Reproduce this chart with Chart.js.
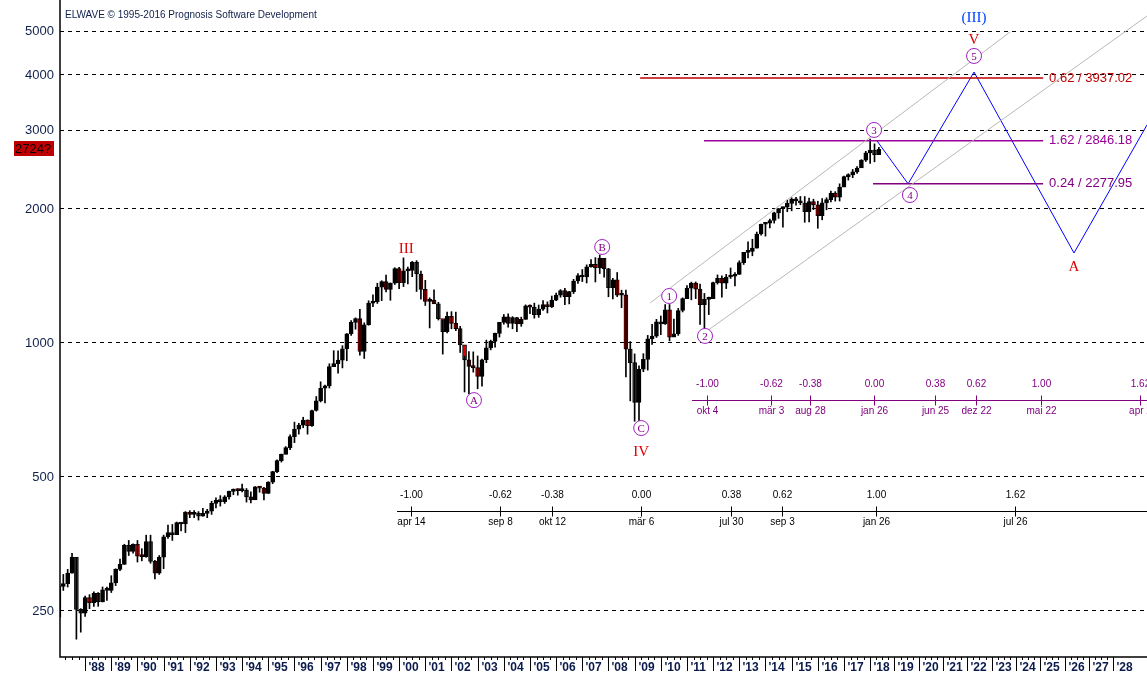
<!DOCTYPE html>
<html>
<head>
<meta charset="utf-8">
<script src="https://cdn.jsdelivr.net/npm/chart.js@4"></script>
<style>
  html, body { margin: 0; padding: 0; background: #fff; }
  #wrap { width: 1147px; height: 677px; position: relative; }
</style>
</head>
<body>
<div id="wrap"><canvas id="grafico"></canvas></div>
<script>
// bimonthly candles, first one is jan-feb 1987
const anioInicio = 1987;
const abre0 = 242;
const cierres = [
  284,288,304,330,252,247, 268,261,274,262,279,278, 289,310,318,351,340,353,
  332,331,358,323,304,330, 367,375,371,395,392,417, 412,415,408,414,419,436,
  443,440,451,464,468,466, 467,451,444,475,472,459, 487,514,544,562,582,616,
  640,654,671,652,705,741, 791,801,885,899,915,970, 1049,1112,1134,957,1099,1229,
  1238,1335,1373,1320,1362,1469, 1366,1452,1455,1517,1429,1320, 1240,1249,1224,1134,1060,1148,
  1107,1077,990,916,886,880, 841,917,975,1008,1051,1112, 1145,1107,1141,1104,1130,1212,
  1204,1157,1191,1220,1207,1248, 1281,1311,1270,1304,1378,1418, 1407,1482,1503,1474,1549,1468,
  1331,1386,1280,1283,969,903, 735,873,919,1021,1036,1115, 1104,1187,1031,1049,1183,1258,
  1327,1364,1321,1219,1253,1258, 1366,1398,1362,1407,1412,1426, 1515,1598,1606,1633,1757,1848,
  1859,1884,1960,2003,2018,2059, 2105,2086,2063,1972,2079,2044, 1932,2065,2099,2171,2126,2239,
  2364,2384,2423,2472,2575,2674, 2714,2648,2724
];
const maximos = [
  285,302,310,337,328,253, 270,272,276,275,283,283, 300,311,327,353,360,354,
  360,345,370,370,325,333, 370,390,391,396,395,418, 420,420,418,425,423,441,
  449,454,454,465,470,470, 482,471,463,476,476,474, 488,515,546,563,585,622,
  664,660,681,672,707,758, 818,804,898,961,960,986, 1050,1123,1139,1190,1110,1244,
  1282,1362,1380,1421,1365,1476, 1478,1553,1480,1525,1531,1450, 1383,1263,1316,1234,1124,1173,
  1176,1173,1090,934,956,955, 935,920,1015,1015,1053,1112, 1159,1163,1146,1142,1143,1218,
  1218,1229,1217,1246,1237,1275, 1295,1318,1326,1306,1390,1431, 1462,1498,1540,1555,1576,1545,
  1471,1397,1440,1314,1314,1007, 945,888,946,1040,1101,1130, 1150,1220,1220,1131,1196,1263,
  1345,1370,1371,1356,1292,1268, 1371,1422,1416,1426,1474,1439, 1530,1598,1687,1710,1775,1849,
  1867,1897,1968,2005,2019,2093, 2119,2125,2134,2133,2116,2104, 2082,2111,2120,2193,2188,2278,
  2371,2400,2454,2491,2582,2695, 2873,2801,2750
];
const minimos = [
  242,278,283,304,216,224, 243,253,256,256,262,264, 275,285,308,318,333,337,
  322,324,330,320,295,302, 311,364,360,373,378,375, 405,405,400,408,405,412,
  426,430,436,446,456,455, 463,439,437,445,462,444, 459,483,511,540,563,576,
  597,624,645,624,649,703, 737,733,792,891,855,879, 912,1040,1074,939,923,1096,
  1206,1227,1245,1302,1247,1353, 1325,1339,1357,1409,1305,1254, 1214,1081,1225,1126,944,1054,
  1076,1066,952,776,768,860, 789,800,903,965,978,1031, 1102,1085,1076,1060,1090,1130,
  1163,1137,1142,1183,1168,1201, 1245,1267,1219,1224,1291,1360, 1374,1364,1480,1371,1432,1406,
  1270,1256,1271,1200,839,741, 667,666,862,869,992,1029, 1044,1101,1011,1040,1040,1174,
  1262,1250,1258,1101,1075,1158, 1259,1356,1267,1325,1396,1343, 1426,1501,1553,1570,1633,1746,
  1738,1814,1859,1905,1821,1972, 1981,2039,2044,1867,1871,1993, 1810,1891,1992,2074,2083,2084,
  2245,2322,2352,2405,2488,2557, 2533,2553,2680
];

const ticksPrecio = [250, 500, 1000, 2000, 3000, 4000, 5000];
const aniosEje = [];
for (let a = 1988; a <= 2028; a++) aniosEje.push(a);

// projected wave path and channel
const ondaX = [2018.26, 2019.45, 2021.97, 2025.79, 2028.58];
const ondaY = [2846, 2278, 4062, 1593, 3090];
const canalSupX = [2009.59, 2023.35], canalSupY = [1230, 4997];
const canalInfX = [2011.39, 2028.58], canalInfY = [1026, 5428];

// fibonacci price levels
const fibs = [
  { desde: 2009.21, hasta: 2024.61, valor: 3937.02, texto: "0.62 / 3937.02", color: "#c00000" },
  { desde: 2011.65, hasta: 2024.61, valor: 2846.18, texto: "1.62 / 2846.18", color: "#990099" },
  { desde: 2018.11, hasta: 2024.61, valor: 2277.95, texto: "0.24 / 2277.95", color: "#800080" },
];

// time ratio rulers
const reglas = [
  { valor: 419, desde: 1999.92, color: "#000",
    anios: [2000.46, 2003.86, 2005.85, 2009.25, 2012.68, 2014.63, 2018.23, 2023.54],
    ratios: ["-1.00", "-0.62", "-0.38", "0.00", "0.38", "0.62", "1.00", "1.62"],
    fechas: ["apr 14", "sep 8", "okt 12", "mär 6", "jul 30", "sep 3", "jan 26", "jul 26"] },
  { valor: 744, desde: 2011.19, color: "#800080",
    anios: [2011.77, 2014.21, 2015.70, 2018.15, 2020.48, 2022.05, 2024.53, 2028.31],
    ratios: ["-1.00", "-0.62", "-0.38", "0.00", "0.38", "0.62", "1.00", "1.62"],
    fechas: ["okt 4", "mär 3", "aug 28", "jan 26", "jun 25", "dez 22", "mai 22", "apr 2"] },
];

const romanos = [
  { x: 2000.27, y: 1626, t: "III", c: "#e00000" },
  { x: 2009.25, y: 569, t: "IV", c: "#e00000" },
  { x: 2021.97, y: 4795, t: "V", c: "#e00000" },
  { x: 2021.97, y: 5371, t: "(III)", c: "#0044ff" },
  { x: 2025.79, y: 1482, t: "A", c: "#e00000" },
];
const circulos = [
  { x: 2002.86, y: 744, t: "A" }, { x: 2007.76, y: 1643, t: "B" },
  { x: 2009.25, y: 644, t: "C" }, { x: 2010.32, y: 1275, t: "1" },
  { x: 2011.69, y: 1037, t: "2" }, { x: 2018.15, y: 3010, t: "3" },
  { x: 2019.52, y: 2150, t: "4" }, { x: 2021.97, y: 4414, t: "5" },
];

const xMin = 1987.04, xMax = 2028.58;
// future years are drawn a little tighter on the time axis
const posAnio = (a) => (a <= 2018 ? a : 2018 + (a - 2018) * 24.3 / 26.17);

let mechas = [], cuerpos = [], coloresCuerpo = [];
let previo = abre0;
cierres.forEach((c, i) => {
  const x = anioInicio + i / 6;
  mechas.push({ x, y: [minimos[i], maximos[i]] });
  cuerpos.push({ x, y: [previo, c] });
  coloresCuerpo.push(c < previo ? "#e00000" : "#000");
  previo = c;
});

const puntos = (xs, ys) => xs.map((x, i) => ({ x, y: ys[i] }));
const linea = (data, color, ancho = 1) => ({
  type: "line", data, borderColor: color, borderWidth: ancho,
  pointRadius: 0, fill: false, tension: 0,
});

const datasets = [
  linea(puntos(canalSupX, canalSupY), "#b8b8b8"),
  linea(puntos(canalInfX, canalInfY), "#b8b8b8"),
  ...fibs.map((f) => linea(puntos([f.desde, f.hasta], [f.valor, f.valor]), f.color, 1.5)),
  { type: "bar", data: mechas, backgroundColor: "#000", barThickness: 1, grouped: false },
  { type: "bar", data: cuerpos, backgroundColor: coloresCuerpo, borderColor: "#000",
    borderWidth: 1, borderSkipped: false, barThickness: 4, minBarLength: 2, grouped: false },
  linea(puntos(ondaX, ondaY), "#0000ff"),
];

const fuente = '"Liberation Sans", Arial, sans-serif';
const fuenteSerif = '"Liberation Serif", "Times New Roman", serif';

const dibujos = {
  id: "dibujos",
  afterDraw(chart) {
    const { ctx, chartArea: ca, scales } = chart;
    const px = (v) => scales.x.getPixelForValue(v);
    const py = (v) => scales.y.getPixelForValue(v);
    ctx.save();
    // axes
    ctx.strokeStyle = "#000"; ctx.lineWidth = 1.5;
    ctx.beginPath();
    ctx.moveTo(ca.left, 0); ctx.lineTo(ca.left, ca.bottom);
    ctx.lineTo(ca.right, ca.bottom); ctx.stroke();
    ctx.lineWidth = 1;
    // price labels
    ctx.fillStyle = "#10204a"; ctx.font = "13px " + fuente;
    ctx.textBaseline = "middle"; ctx.textAlign = "right";
    ticksPrecio.forEach((v) => ctx.fillText(String(v), ca.left - 6, py(v)));
    ctx.fillStyle = "#0a1a4a";
    ctx.font = "bold 12px " + fuente;
    ctx.textAlign = "left";
    aniosEje.forEach((a) => {
      const x = Math.round(px(posAnio(a))) + 0.5;
      ctx.beginPath(); ctx.moveTo(x, ca.bottom); ctx.lineTo(x, ca.bottom + 14); ctx.stroke();
      for (let q = 1; q < 4; q++) {
        const xm = Math.round(px(posAnio(a - q / 4))) + 0.5;
        if (xm < ca.left) continue;
        ctx.beginPath(); ctx.moveTo(xm, ca.bottom); ctx.lineTo(xm, ca.bottom + 3); ctx.stroke();
      }
      ctx.fillText("'" + String(a).slice(2), x + 3, ca.bottom + 11);
    });
    // fib labels
    ctx.font = "13px " + fuente;
    fibs.forEach((f) => {
      ctx.fillStyle = f.color;
      ctx.fillText(f.texto, px(f.hasta) + 6, py(f.valor));
    });
    // time rulers
    ctx.font = "10px " + fuente; ctx.textAlign = "center";
    reglas.forEach((r) => {
      const y = Math.round(py(r.valor)) + 0.5;
      ctx.strokeStyle = r.color; ctx.fillStyle = r.color;
      ctx.beginPath(); ctx.moveTo(px(r.desde), y); ctx.lineTo(ca.right, y); ctx.stroke();
      r.anios.forEach((a, i) => {
        const x = Math.round(px(a)) + 0.5;
        ctx.beginPath(); ctx.moveTo(x, y - 5); ctx.lineTo(x, y + 5); ctx.stroke();
        ctx.fillText(r.ratios[i], x, y - 16);
        ctx.fillText(r.fechas[i], x, y + 11);
      });
    });
    // wave labels
    ctx.font = "15px " + fuenteSerif;
    romanos.forEach((r) => { ctx.fillStyle = r.c; ctx.fillText(r.t, px(r.x), py(r.y)); });
    ctx.font = "11px " + fuenteSerif;
    circulos.forEach((c) => {
      const x = px(c.x), y = py(c.y);
      ctx.fillStyle = "#fff"; ctx.strokeStyle = "#a020c0";
      ctx.beginPath(); ctx.arc(x, y, 7.5, 0, Math.PI * 2); ctx.fill(); ctx.stroke();
      ctx.fillStyle = "#800080"; ctx.fillText(c.t, x, y + 1);
    });
    // header and last price box
    ctx.textAlign = "left";
    ctx.font = "10px " + fuente; ctx.fillStyle = "#10204a";
    ctx.fillText("ELWAVE © 1995-2016 Prognosis Software Development", 65, 15);
    ctx.fillStyle = "#c00000"; ctx.fillRect(14, 141, 40, 15);
    ctx.fillStyle = "#000"; ctx.font = "13px " + fuente;
    ctx.fillText("2724?", 15, 149);
    ctx.restore();
  },
};

new Chart(document.getElementById("grafico"), {
  data: { datasets },
  options: {
    responsive: true, maintainAspectRatio: false, animation: false,
    layout: { padding: 0 },
    plugins: { legend: { display: false }, tooltip: { enabled: false } },
    scales: {
      x: {
        type: "linear", min: xMin, max: xMax, offset: false,
        grid: { display: false }, border: { display: false },
        ticks: { display: false },
        afterFit: (s) => { s.height = 20; },
      },
      y: {
        type: "logarithmic", min: 197, max: 5896, position: "left",
        afterBuildTicks: (s) => { s.ticks = ticksPrecio.map((value) => ({ value })); },
        afterFit: (s) => { s.width = 60; },
        grid: { color: "#000", lineWidth: 1, drawTicks: false },
        border: { display: false, dash: [4, 4] },
        ticks: { display: false },
      },
    },
  },
  plugins: [dibujos],
});
</script>
</body>
</html>
